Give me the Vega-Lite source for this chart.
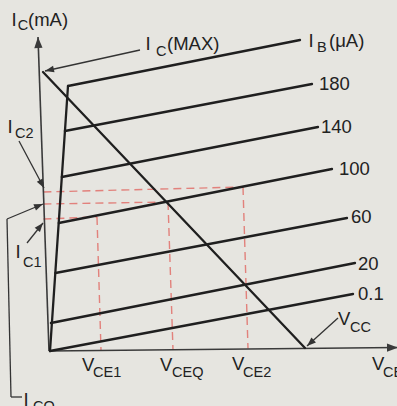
{
  "$schema": "https://vega.github.io/schema/vega-lite/v6.json",
  "width": 397,
  "height": 406,
  "autosize": "none",
  "padding": 0,
  "background": "#e6e5e0",
  "config": {"view": {"stroke": null}},
  "datasets": {
    "curves": [
      {"id": "saturation", "v": 0.0625, "i": 0, "v2": 1.1875, "i2": 13.25},
      {"id": "top", "v": 1.1875, "i": 13.25, "v2": 15.6875, "i2": 15.55},
      {"id": "180", "v": 0.994, "i": 11.0, "v2": 16.4375, "i2": 13.35},
      {"id": "140", "v": 0.8, "i": 8.7, "v2": 16.8125, "i2": 11.2},
      {"id": "100", "v": 0.61, "i": 6.4, "v2": 17.6875, "i2": 9.1},
      {"id": "60", "v": 0.4, "i": 3.9, "v2": 18.625, "i2": 6.65},
      {"id": "20", "v": 0.12, "i": 1.4, "v2": 19.125, "i2": 4.4},
      {"id": "0.1", "v": 0.0625, "i": 0, "v2": 19.0, "i2": 2.85},
      {"id": "load", "v": -0.375, "i": 13.95, "v2": 16.0, "i2": 0.15}
    ],
    "projections": [
      {"id": "VCE1", "v": 3.0, "i": 6.7, "v2": 3.25, "i2": 0.05},
      {"id": "VCEQ", "v": 7.4375, "i": 7.45, "v2": 7.75, "i2": 0.05},
      {"id": "VCE2", "v": 12.125, "i": 8.2, "v2": 12.4375, "i2": 0.125},
      {"id": "IC2", "v": -0.35, "i": 7.95, "v2": 12.125, "i2": 8.2},
      {"id": "ICQ", "v": -0.35, "i": 7.35, "v2": 7.4375, "i2": 7.45},
      {"id": "IC1", "v": -0.35, "i": 6.6, "v2": 3.0, "i2": 6.7}
    ],
    "axes": [
      {"id": "ic-axis", "v": -0.6875, "i": 15.7, "v2": 0, "i2": 0},
      {"id": "vce-axis", "v": 21.8125, "i": 0.175, "v2": 0, "i2": 0}
    ],
    "pointers": [
      {"id": "IC(MAX)", "v": -0.25, "i": 14.0, "v2": 5.6875, "i2": 15.05},
      {"id": "VCC", "v": 16.125, "i": 0.25, "v2": 18.0625, "i2": 1.65},
      {"id": "IC2", "v": -0.3125, "i": 8.15, "v2": -1.875, "i2": 10.5},
      {"id": "IC1", "v": -0.375, "i": 6.4, "v2": -1.375, "i2": 5.4},
      {"id": "ICO", "v": -0.375, "i": 7.35, "v2": -2.625, "i2": 6.6},
      {"id": "ICO-bracket", "v": -2.625, "i": 6.6, "v2": -2.375, "i2": -2.3},
      {"id": "ICO-foot", "v": -2.375, "i": -2.3, "v2": -1.6875, "i2": -2.3}
    ],
    "labels": [
      {"t": "I", "v": -2.34, "i": 16.275, "role": "main"},
      {"t": "(mA)", "v": -1.3125, "i": 16.275, "role": "main"},
      {"t": "I", "v": 6.03, "i": 15.05, "role": "main"},
      {"t": "(MAX)", "v": 7.375, "i": 15.05, "role": "main"},
      {"t": "I", "v": 16.22, "i": 15.2, "role": "main"},
      {"t": "(μA)", "v": 17.5, "i": 15.2, "role": "main"},
      {"t": "180", "v": 16.875, "i": 13.05, "role": "main"},
      {"t": "140", "v": 17.0, "i": 10.9, "role": "main"},
      {"t": "100", "v": 18.125, "i": 8.8, "role": "main"},
      {"t": "60", "v": 18.875, "i": 6.4, "role": "main"},
      {"t": "20", "v": 19.3125, "i": 4.05, "role": "main"},
      {"t": "0.1", "v": 19.3125, "i": 2.55, "role": "main"},
      {"t": "V", "v": 2.0625, "i": -1.0, "role": "main"},
      {"t": "V", "v": 6.9375, "i": -1.0, "role": "main"},
      {"t": "V", "v": 11.4375, "i": -0.95, "role": "main"},
      {"t": "V", "v": 20.1875, "i": -0.95, "role": "main"},
      {"t": "V", "v": 18.0625, "i": 1.3, "role": "main"},
      {"t": "I", "v": -2.6, "i": 10.9, "role": "main"},
      {"t": "I", "v": -2.1, "i": 4.65, "role": "main"},
      {"t": "I", "v": -1.6, "i": -2.75, "role": "main"},
      {"t": "C", "v": -1.95, "i": 16.05, "role": "sub"},
      {"t": "C", "v": 6.6875, "i": 14.75, "role": "sub"},
      {"t": "B", "v": 16.75, "i": 14.95, "role": "sub"},
      {"t": "CE1", "v": 2.75, "i": -1.3, "role": "sub"},
      {"t": "CEQ", "v": 7.6875, "i": -1.3, "role": "sub"},
      {"t": "CE2", "v": 12.125, "i": -1.3, "role": "sub"},
      {"t": "CE", "v": 20.875, "i": -1.3, "role": "sub"},
      {"t": "CC", "v": 18.8125, "i": 0.95, "role": "sub"},
      {"t": "C2", "v": -2.125, "i": 10.65, "role": "sub"},
      {"t": "C1", "v": -1.625, "i": 4.2, "role": "sub"},
      {"t": "CO", "v": -1.0, "i": -3.0, "role": "sub"}
    ]
  },
  "encoding": {
    "x": {"field": "v", "type": "quantitative", "scale": {"domain": [-3.0625, 21.75], "nice": false, "zero": false}, "axis": null},
    "y": {"field": "i", "type": "quantitative", "scale": {"domain": [-2.75, 17.55], "nice": false, "zero": false}, "axis": null}
  },
  "layer": [
    {
      "data": {"name": "projections"},
      "mark": {"type": "rule", "stroke": "#e0706a", "strokeWidth": 1.4, "strokeDash": [8, 5], "opacity": 0.85},
      "encoding": {"x2": {"field": "v2"}, "y2": {"field": "i2"}}
    },
    {
      "data": {"name": "axes"},
      "mark": {"type": "rule", "stroke": "#3a3a3a", "strokeWidth": 1.6},
      "encoding": {"x2": {"field": "v2"}, "y2": {"field": "i2"}}
    },
    {
      "data": {"name": "pointers"},
      "mark": {"type": "rule", "stroke": "#333333", "strokeWidth": 1.3},
      "encoding": {"x2": {"field": "v2"}, "y2": {"field": "i2"}}
    },
    {
      "data": {"name": "curves"},
      "mark": {"type": "rule", "stroke": "#1f1f1f", "strokeWidth": 2.3, "strokeCap": "round"},
      "encoding": {"x2": {"field": "v2"}, "y2": {"field": "i2"}}
    },
    {
      "data": {"name": "axes"},
      "transform": [{"filter": "datum.id === 'ic-axis'"}],
      "mark": {"type": "point", "shape": "M0,0 L-2,-0.75 L-2,0.75 Z", "size": 121, "angle": -92, "filled": true, "color": "#3a3a3a", "opacity": 1}
    },
    {
      "data": {"name": "axes"},
      "transform": [{"filter": "datum.id === 'vce-axis'"}],
      "mark": {"type": "point", "shape": "M0,0 L-2,-0.75 L-2,0.75 Z", "size": 121, "angle": -0.6, "filled": true, "color": "#3a3a3a", "opacity": 1}
    },
    {
      "data": {"name": "pointers"},
      "transform": [{"filter": "datum.id === 'IC(MAX)'"}],
      "mark": {"type": "point", "shape": "M0,0 L-2,-0.75 L-2,0.75 Z", "size": 81, "angle": 167.5, "filled": true, "color": "#333333", "opacity": 1}
    },
    {
      "data": {"name": "pointers"},
      "transform": [{"filter": "datum.id === 'VCC'"}],
      "mark": {"type": "point", "shape": "M0,0 L-2,-0.75 L-2,0.75 Z", "size": 81, "angle": 138, "filled": true, "color": "#333333", "opacity": 1}
    },
    {
      "data": {"name": "pointers"},
      "transform": [{"filter": "datum.id === 'IC2'"}],
      "mark": {"type": "point", "shape": "M0,0 L-2,-0.75 L-2,0.75 Z", "size": 81, "angle": 62, "filled": true, "color": "#333333", "opacity": 1}
    },
    {
      "data": {"name": "pointers"},
      "transform": [{"filter": "datum.id === 'IC1'"}],
      "mark": {"type": "point", "shape": "M0,0 L-2,-0.75 L-2,0.75 Z", "size": 81, "angle": -51, "filled": true, "color": "#333333", "opacity": 1}
    },
    {
      "data": {"name": "pointers"},
      "transform": [{"filter": "datum.id === 'ICO'"}],
      "mark": {"type": "point", "shape": "M0,0 L-2,-0.75 L-2,0.75 Z", "size": 81, "angle": -22.6, "filled": true, "color": "#333333", "opacity": 1}
    },
    {
      "data": {"name": "labels"},
      "transform": [{"filter": "datum.role === 'main'"}],
      "mark": {"type": "text", "align": "left", "baseline": "alphabetic", "font": "Liberation Sans Narrow, Liberation Sans, sans-serif", "fontSize": 18.5, "color": "#222222"},
      "encoding": {"text": {"field": "t"}}
    },
    {
      "data": {"name": "labels"},
      "transform": [{"filter": "datum.role === 'sub'"}],
      "mark": {"type": "text", "align": "left", "baseline": "alphabetic", "font": "Liberation Sans Narrow, Liberation Sans, sans-serif", "fontSize": 14.5, "color": "#222222"},
      "encoding": {"text": {"field": "t"}}
    }
  ]
}
